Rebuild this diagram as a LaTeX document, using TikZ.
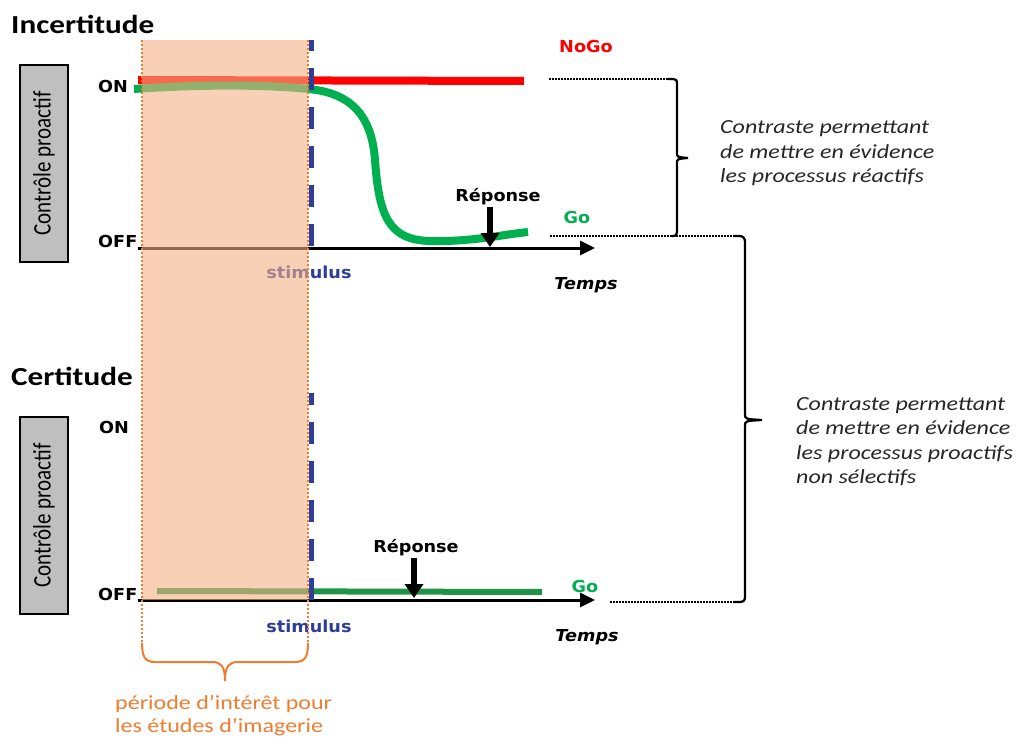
\documentclass[tikz,border=0pt]{standalone}
\usepackage{fontspec}
\usepackage{graphicx}
\usetikzlibrary{arrows.meta}
\newfontfamily\calS[FakeStretch=1.2]{Carlito}
\newfontfamily\calR{Carlito}
\newfontfamily\verS[FakeStretch=1.07]{DejaVu Sans}
\definecolor{cred}{HTML}{FF0000}
\definecolor{cgreen}{HTML}{00B050}
\definecolor{cdgreen}{HTML}{1F9446}
\definecolor{corange}{HTML}{ED7D31}
\definecolor{cpeach}{HTML}{F4B183}
\definecolor{cblue}{HTML}{2E3D98}
\definecolor{cgray}{HTML}{BFBFBF}
\begin{document}
\begin{tikzpicture}[x=1pt,y=-1pt,
  lbl/.style={font=\verS\bfseries\fontsize{16.5}{19}\selectfont, inner sep=0pt, anchor=base},
  lblw/.style={lbl, anchor=base west},
  tlbl/.style={font=\verS\bfseries\itshape\fontsize{16.5}{19}\selectfont, inner sep=0pt, anchor=base},
  titre/.style={font=\calS\bfseries\fontsize{26}{30}\selectfont, inner sep=0pt, anchor=base west},
  note/.style={font=\calS\itshape\fontsize{20}{24.5}\selectfont, inner sep=0pt, anchor=base west, text=black!85},
  onote/.style={font=\calS\fontsize{20}{23.5}\selectfont, inner sep=0pt, anchor=base west, text=corange},
  ctlbox/.style={draw=black, line width=2pt, fill=cgray, rotate=90, minimum width=197pt, minimum height=48pt, inner sep=0pt, font=\calR\fontsize{21}{25}\selectfont},
  axisarrow/.style={line width=3pt, -{Triangle[length=15pt,width=14pt]}},
  resp/.style={line width=6pt, -{Triangle[length=14pt,width=18pt]}},
  dotline/.style={line width=1.6pt, dash pattern=on 1.5pt off 1.5pt},
  bracestyle/.style={line width=2.2pt},
  stimdash/.style={cblue, line width=5pt, dash pattern=on 22pt off 17pt},
  odot/.style={corange, line width=2.2pt, dash pattern=on 2pt off 2pt},
]
\useasboundingbox (0,0) rectangle (1016,738);

% ---------- titles and boxes
\node[titre] (t1) at (11,34) {Incertitude};
\node[titre] (t2) at (11,385) {Certitude};
\node[ctlbox] (box1) at (44,163.5) {\scalebox{1}[1.2]{Contrôle proactif}};
\node[ctlbox] (box2) at (44,515.5) {\scalebox{1}[1.2]{Contrôle proactif}};

\node[lblw] (on1) at (98,93) {ON};
\node[lblw] (off1) at (98,247) {OFF};
\node[lblw] (on2) at (99,433) {ON};
\node[lblw] (off2) at (98,600) {OFF};

% ---------- top panel signals
\coordinate (ax1s) at (138,248);
\coordinate (ax1e) at (595,248);
\draw[axisarrow] (ax1s) -- (ax1e);
\draw[cred, line width=8pt] (138,80) -- (524,81);
\draw[cgreen, line width=8pt] (134,89) .. controls (190,85) and (260,84) .. (308,89)
  .. controls (355,93) and (372,120) .. (375,160)
  .. controls (379,215) and (388,240) .. (430,241)
  .. controls (470,242) and (500,235) .. (528,232);
\node[lbl, text=cblue] (stim1) at (309,278) {stimulus};

% ---------- bottom panel signals
\coordinate (ax2s) at (138,600);
\coordinate (ax2e) at (595,600);
\draw[axisarrow] (ax2s) -- (ax2e);
\draw[cdgreen, line width=6pt] (157,591) -- (542,592);
\node[lbl, text=cblue] (stim2) at (309,632) {stimulus};

% ---------- period of interest overlay
\fill[cpeach, opacity=0.6] (142,40) rectangle (308,600);
\draw[odot] (142,40) -- (142,643);
\draw[odot] (308,40) -- (308,643);
\draw[corange, line width=2pt] (142,643) .. controls (142,657) and (145,662) .. (155,662)
  -- (212,662) .. controls (221,662) and (225,666) .. (225,681)
  .. controls (225,666) and (229,662) .. (238,662)
  -- (295,662) .. controls (305,662) and (308,657) .. (308,643);
\node[onote] (period) at (115,709) {\begin{tabular}[t]{@{}l@{}}période d’intérêt pour\\les études d’imagerie\end{tabular}};

% ---------- stimulus dashes
\draw[stimdash, dash phase=11pt] (311.5,40) -- (311.5,248);
\draw[stimdash, dash phase=10pt] (311.5,393) -- (311.5,600);

% ---------- labels
\node[lbl, text=cred] (nogo) at (586,53) {NoGo};
\node[lbl, text=cgreen] (go1) at (577,223) {Go};
\node[lbl, text=cgreen] (go2) at (585,592) {Go};
\node[tlbl] (temps1) at (586,289) {Temps};
\node[tlbl] (temps2) at (587,641) {Temps};

\node[lbl] (rep1) at (498,201) {Réponse};
\coordinate (tip1) at (490,247);
\draw[resp] ([yshift=-2pt]tip1 |- rep1.south) -- (tip1);
\node[lbl] (rep2) at (416,552) {Réponse};
\coordinate (tip2) at (414,598);
\draw[resp] ([yshift=-2pt]tip2 |- rep2.south) -- (tip2);

% ---------- brackets
\draw[dotline] (549,79) -- (670,79);
\draw[dotline] (550,236) -- (735,236);
\draw[dotline] (610,602) -- (735,602);
\draw[bracestyle] (668,79) -- (673,79) .. controls (676,79) and (677,80) .. (677,84)
  -- (677,153) .. controls (677,157) .. (688,158)
  .. controls (677,159) .. (677,163)
  -- (677,232) .. controls (677,235) and (676,236) .. (672,236);
\draw[bracestyle] (733,236) -- (739,236) .. controls (743,236) and (745,238) .. (745,242)
  -- (745,414) .. controls (745,419) .. (762,420)
  .. controls (745,421) .. (745,426)
  -- (745,597) .. controls (745,601) and (743,602) .. (739,602) -- (733,602);

\node[note] (n1) at (720,134) {\begin{tabular}[t]{@{}l@{}}Contraste permettant\\de mettre en évidence\\les processus réactifs\end{tabular}};
\node[note] (n2) at (796,410) {\begin{tabular}[t]{@{}l@{}}Contraste permettant\\de mettre en évidence\\les processus proactifs\\non sélectifs\end{tabular}};
\end{tikzpicture}
\end{document}
